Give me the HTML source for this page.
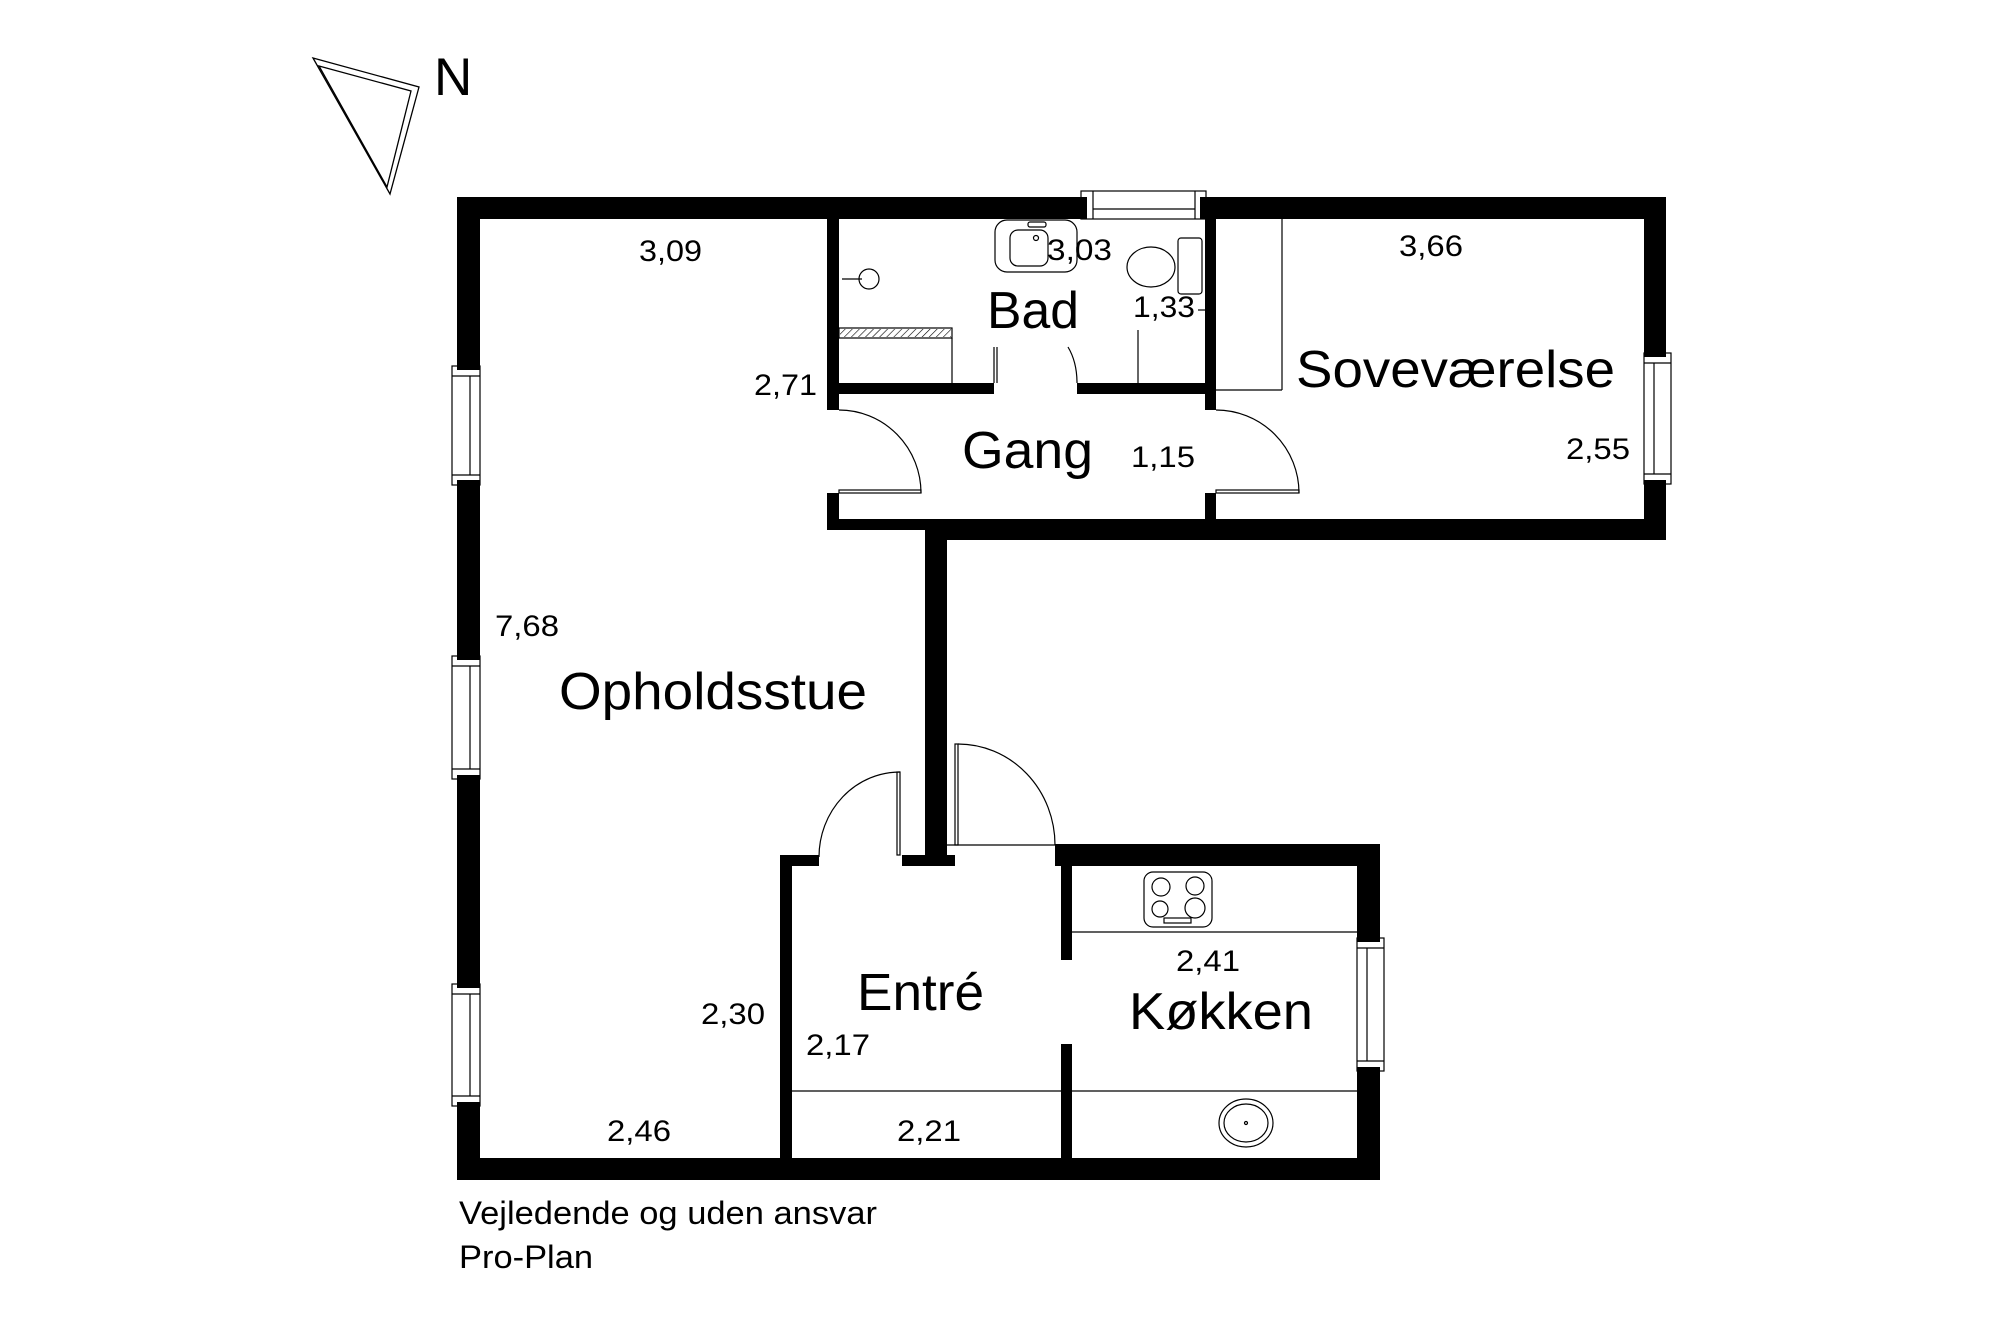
<!DOCTYPE html>
<html><head><meta charset="utf-8"><style>
html,body{margin:0;padding:0;background:#fff;}
svg{display:block;}
text{font-family:"Liberation Sans",Arial,sans-serif;fill:#000;}
</style></head><body>
<svg width="2000" height="1333" viewBox="0 0 2000 1333" xmlns="http://www.w3.org/2000/svg">
<rect width="2000" height="1333" fill="#fff"/>
<!-- compass -->
<polygon points="313,58 419,87 390,194" fill="none" stroke="#000" stroke-width="1.3"/>
<polygon points="319,66 411,91 387,187" fill="none" stroke="#000" stroke-width="1.3"/>
<text x="434" y="95" font-size="53">N</text>

<g fill="#000">
<!-- top wall -->
<rect x="457" y="197" width="630" height="22"/>
<rect x="1200" y="197" width="466" height="22"/>
<!-- left wall with window gaps -->
<rect x="457" y="197" width="23" height="173"/>
<rect x="457" y="480" width="23" height="180"/>
<rect x="457" y="775" width="23" height="213"/>
<rect x="457" y="1102" width="23" height="78"/>
<!-- right wall bedroom -->
<rect x="1644" y="197" width="22" height="160"/>
<rect x="1644" y="480" width="22" height="60"/>
<!-- bath left wall -->
<rect x="827" y="219" width="12" height="191"/>
<rect x="827" y="493" width="12" height="37"/>
<!-- bath bottom wall -->
<rect x="827" y="383" width="167" height="11"/>
<rect x="1077" y="383" width="139" height="11"/>
<!-- bath/bed wall -->
<rect x="1205" y="219" width="11" height="191"/>
<rect x="1205" y="493" width="11" height="37"/>
<!-- gang bottom -->
<rect x="827" y="519" width="839" height="11"/>
<rect x="925" y="519" width="741" height="21"/>
<!-- vertical corridor wall -->
<rect x="925" y="540" width="22" height="326"/>
<rect x="902" y="855" width="53" height="11"/>
<!-- entre -->
<rect x="780" y="855" width="39" height="11"/>
<rect x="780" y="855" width="12" height="325"/>
<!-- kitchen -->
<rect x="1055" y="844" width="325" height="22"/>
<rect x="1357" y="844" width="23" height="98"/>
<rect x="1357" y="1067" width="23" height="113"/>
<rect x="1061" y="844" width="11" height="116"/>
<rect x="1061" y="1044" width="11" height="120"/>
<!-- bottom -->
<rect x="457" y="1158" width="923" height="22"/>
</g>

<g fill="none" stroke="#000" stroke-width="1.2">
<!-- top window bath -->
<rect x="1081" y="191" width="125" height="28"/>
<line x1="1093" y1="191" x2="1093" y2="219"/><line x1="1195" y1="191" x2="1195" y2="219"/>
<line x1="1093" y1="209" x2="1195" y2="209"/>
<!-- left windows -->
<rect x="452" y="366" width="28" height="119"/><line x1="470" y1="376" x2="470" y2="475"/><line x1="452" y1="376" x2="480" y2="376"/><line x1="452" y1="475" x2="480" y2="475"/>
<rect x="452" y="656" width="28" height="123"/><line x1="470" y1="666" x2="470" y2="769"/><line x1="452" y1="666" x2="480" y2="666"/><line x1="452" y1="769" x2="480" y2="769"/>
<rect x="452" y="984" width="28" height="122"/><line x1="470" y1="994" x2="470" y2="1096"/><line x1="452" y1="994" x2="480" y2="994"/><line x1="452" y1="1096" x2="480" y2="1096"/>
<!-- bedroom window -->
<rect x="1644" y="353" width="27" height="131"/><line x1="1654" y1="363" x2="1654" y2="474"/><line x1="1644" y1="363" x2="1671" y2="363"/><line x1="1644" y1="474" x2="1671" y2="474"/>
<!-- kitchen window -->
<rect x="1357" y="938" width="27" height="133"/><line x1="1367" y1="948" x2="1367" y2="1061"/><line x1="1357" y1="948" x2="1384" y2="948"/><line x1="1357" y1="1061" x2="1384" y2="1061"/>

<!-- gang doors -->
<path d="M839,410 A82,83 0 0 1 921,493"/>
<rect x="839" y="490" width="82" height="3"/>
<path d="M1216,410 A83,83 0 0 1 1299,493"/>
<rect x="1216" y="490" width="83" height="3"/>
<!-- entre doors -->
<path d="M900,772 A81,85 0 0 0 819,857"/>
<rect x="897" y="772" width="3" height="83"/>
<path d="M958,744 A97,101 0 0 1 1055,845"/>
<rect x="955" y="744" width="3" height="101"/>
<line x1="947" y1="845" x2="1055" y2="845"/>

<!-- bath fixtures -->
<circle cx="869" cy="279" r="10"/>
<line x1="842" y1="279" x2="862" y2="279"/>
<rect x="839" y="328" width="113" height="10"/>
<line x1="952" y1="338" x2="952" y2="383"/>
<line x1="994" y1="347" x2="994" y2="383"/><line x1="997" y1="347" x2="997" y2="383"/>
<path d="M1068,347 Q1077,362 1077,383"/>
<line x1="1138" y1="330" x2="1138" y2="383"/>
<rect x="995" y="220" width="82" height="52" rx="12"/>
<rect x="1010" y="230" width="38" height="36" rx="8"/>
<rect x="1028" y="222" width="18" height="5" rx="2"/>
<circle cx="1036" cy="238" r="2.5"/>
<ellipse cx="1151" cy="267" rx="24" ry="20"/>
<rect x="1178" y="238" width="24" height="56" rx="3"/>
<line x1="1205" y1="310" x2="1198" y2="310"/>
<!-- bedroom wardrobe -->
<line x1="1282" y1="219" x2="1282" y2="390"/>
<line x1="1216" y1="390" x2="1282" y2="390"/>
<!-- kitchen -->
<line x1="1072" y1="932" x2="1357" y2="932"/>
<line x1="792" y1="1091" x2="1357" y2="1091"/>
<rect x="1144" y="872" width="68" height="55" rx="9"/>
<circle cx="1161" cy="887" r="9"/><circle cx="1195" cy="886" r="9"/>
<circle cx="1160" cy="909" r="8"/><circle cx="1195" cy="908" r="10"/>
<rect x="1164" y="918" width="27" height="5"/>
<ellipse cx="1246" cy="1123" rx="27" ry="24"/>
<ellipse cx="1246" cy="1123" rx="22" ry="19"/>
<circle cx="1246" cy="1123" r="1.5"/>
</g>
<pattern id="h" width="5" height="5" patternUnits="userSpaceOnUse" patternTransform="rotate(45)"><line x1="0" y1="0" x2="0" y2="5" stroke="#000" stroke-width="1.2"/></pattern>
<rect x="840" y="329" width="111" height="8" fill="url(#h)"/>

<!-- labels -->
<g font-size="30">
<text x="639" y="261" textLength="63" lengthAdjust="spacingAndGlyphs">3,09</text>
<text x="754" y="395" textLength="63" lengthAdjust="spacingAndGlyphs">2,71</text>
<text x="1047" y="260" textLength="65" lengthAdjust="spacingAndGlyphs">3,03</text>
<text x="1133" y="317" textLength="62" lengthAdjust="spacingAndGlyphs">1,33</text>
<text x="1131" y="467" textLength="64" lengthAdjust="spacingAndGlyphs">1,15</text>
<text x="1399" y="256" textLength="64" lengthAdjust="spacingAndGlyphs">3,66</text>
<text x="1566" y="459" textLength="64" lengthAdjust="spacingAndGlyphs">2,55</text>
<text x="495" y="636" textLength="64" lengthAdjust="spacingAndGlyphs">7,68</text>
<text x="701" y="1024" textLength="64" lengthAdjust="spacingAndGlyphs">2,30</text>
<text x="806" y="1055" textLength="64" lengthAdjust="spacingAndGlyphs">2,17</text>
<text x="1176" y="971" textLength="64" lengthAdjust="spacingAndGlyphs">2,41</text>
<text x="897" y="1141" textLength="64" lengthAdjust="spacingAndGlyphs">2,21</text>
<text x="607" y="1141" textLength="64" lengthAdjust="spacingAndGlyphs">2,46</text>
</g>
<g font-size="52">
<text x="987" y="328" textLength="92" lengthAdjust="spacingAndGlyphs">Bad</text>
<text x="962" y="468" textLength="131" lengthAdjust="spacingAndGlyphs">Gang</text>
<text x="1296" y="387" textLength="319" lengthAdjust="spacingAndGlyphs">Soveværelse</text>
<text x="559" y="709" textLength="308" lengthAdjust="spacingAndGlyphs">Opholdsstue</text>
<text x="857" y="1010" textLength="127" lengthAdjust="spacingAndGlyphs">Entré</text>
<text x="1129" y="1029" textLength="184" lengthAdjust="spacingAndGlyphs">Køkken</text>
</g>
<text x="459" y="1224" font-size="32" textLength="418" lengthAdjust="spacingAndGlyphs">Vejledende og uden ansvar</text>
<text x="459" y="1268" font-size="32" textLength="134" lengthAdjust="spacingAndGlyphs">Pro-Plan</text>
</svg>
</body></html>
